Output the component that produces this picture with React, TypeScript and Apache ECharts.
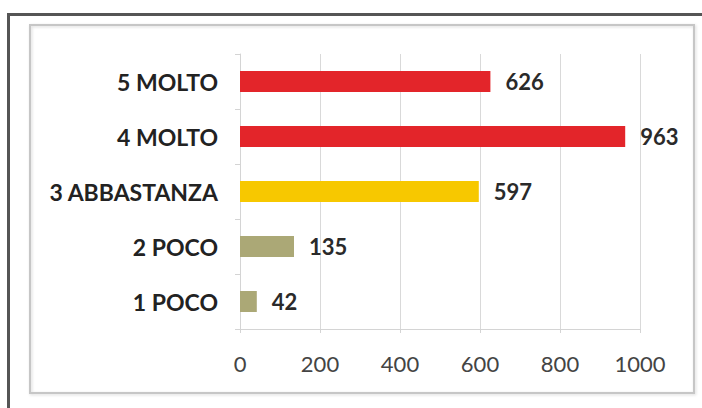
import React, { useEffect, useRef } from "react";
import * as echarts from "echarts";

const categories = ["1 POCO", "2 POCO", "3 ABBASTANZA", "4 MOLTO", "5 MOLTO"];
const values = [42, 135, 597, 963, 626];
const barColors = ["#ABA876", "#ABA876", "#F7C800", "#E3252A", "#E3252A"];
const xTicks = { min: 0, max: 1000, interval: 200 };

export default function App() {
  const ref = useRef<HTMLDivElement>(null);
  useEffect(() => {
    if (!ref.current) return;
    const chart = echarts.init(ref.current, null, { renderer: "svg" });
    chart.setOption({
      animation: false,
      backgroundColor: "#ffffff",
      textStyle: { fontFamily: "Lato" },
      graphic: [
        {
          type: "rect",
          shape: { x: 30, y: 25, width: 664, height: 368 },
          style: {
            fill: "none",
            stroke: "#c6c6c6",
            lineWidth: 2,
            shadowColor: "rgba(0,0,0,0.15)",
            shadowBlur: 3,
            shadowOffsetX: 1,
            shadowOffsetY: 1,
          },
          silent: true,
        },
        {
          type: "polyline",
          shape: { points: [[8.5, 408], [8.5, 14.5], [702, 14.5]] },
          style: { fill: "none", stroke: "#555555", lineWidth: 3 },
          silent: true,
        },
      ],
      grid: { left: 240, right: 62, top: 54, bottom: 79, containLabel: false },
      xAxis: {
        type: "value",
        min: xTicks.min,
        max: xTicks.max,
        interval: xTicks.interval,
        axisLine: { show: true, lineStyle: { color: "#d4d4d4", width: 1 } },
        axisTick: { show: true, length: 4, lineStyle: { color: "#d4d4d4" } },
        splitLine: { show: true, lineStyle: { color: "#d9d9d9", width: 1 } },
        axisLabel: {
          margin: 23,
          fontSize: 22,
          color: "#444444",
          fontFamily: "Lato",
          formatter: (v: number) => String(v),
        },
      },
      yAxis: {
        type: "category",
        data: categories,
        axisLine: { show: true, lineStyle: { color: "#d4d4d4", width: 1 } },
        axisTick: { show: true, length: 5, lineStyle: { color: "#d4d4d4" } },
        splitLine: { show: false },
        axisLabel: {
          margin: 22,
          fontSize: 23,
          fontWeight: "bold",
          color: "#222222",
          fontFamily: "Lato",
        },
      },
      series: [
        {
          type: "bar",
          barWidth: 21,
          data: values.map((v, i) => ({
            value: v,
            itemStyle: { color: barColors[i] },
          })),
          label: {
            show: true,
            position: "right",
            distance: 15,
            fontSize: 22,
            fontWeight: "bold",
            color: "#2a2a2a",
            fontFamily: "Lato",
          },
        },
      ],
    });
    return () => chart.dispose();
  }, []);
  return (
    <div
      ref={ref}
      style={{ position: "fixed", left: 0, top: 0, width: 702, height: 408 }}
    />
  );
}
